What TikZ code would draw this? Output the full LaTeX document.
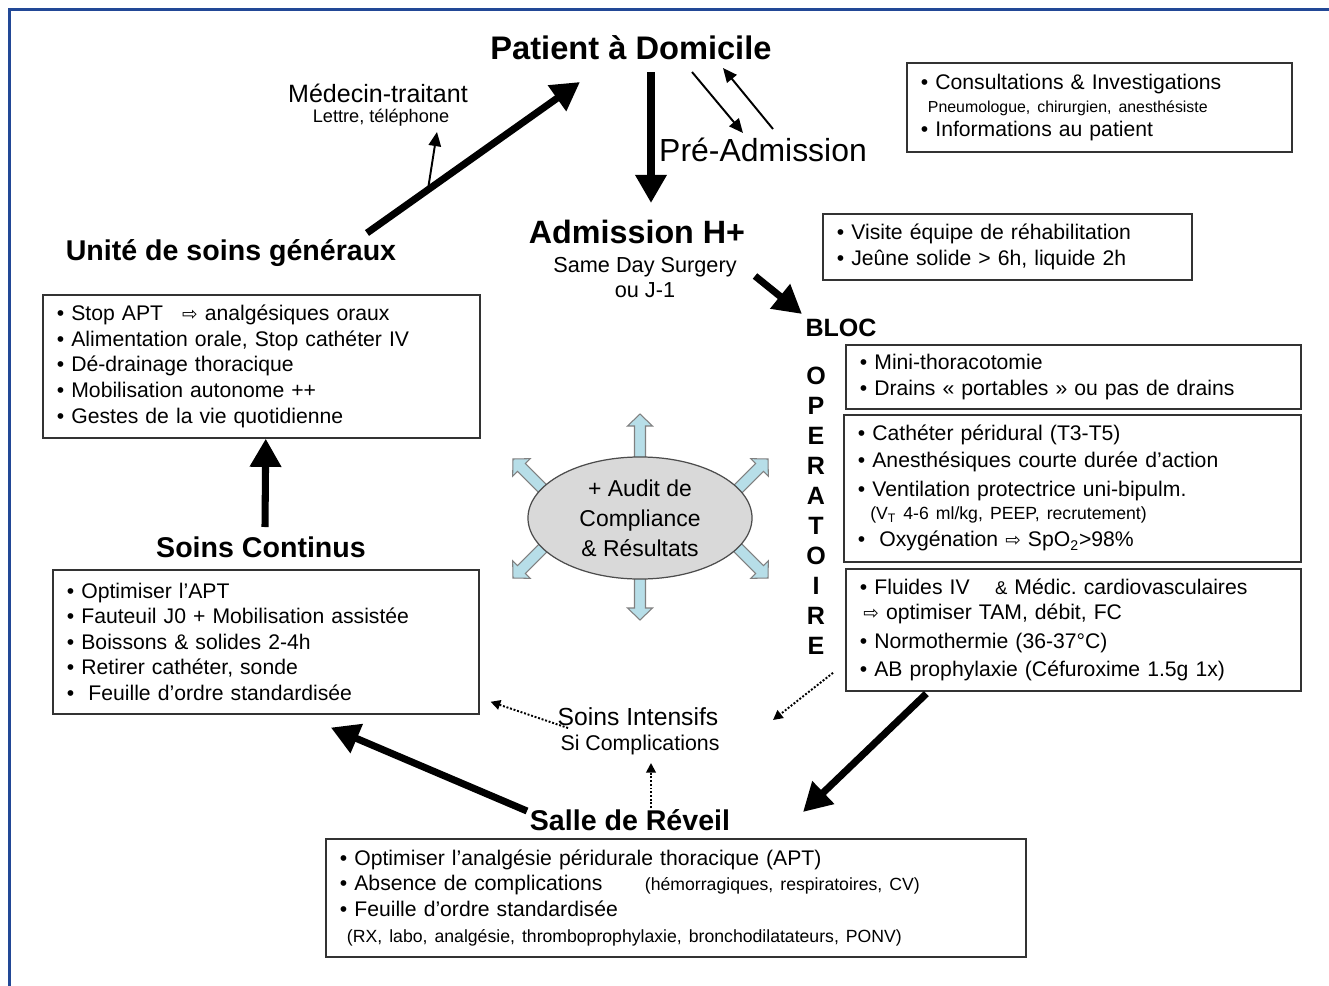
\documentclass[tikz,border=0pt]{standalone}
\usepackage{fontspec}
\setmainfont{Liberation Sans}
\newfontfamily\symfont{DejaVu Sans}
\usetikzlibrary{arrows.meta,shapes.geometric,calc}

\definecolor{frameblue}{RGB}{34,72,150}
\definecolor{auditgray}{RGB}{217,217,217}
\definecolor{auditblue}{RGB}{183,222,232}
\newcommand{\wra}{{\symfont\fontsize{10.5}{10}\selectfont ⇨}}
\frenchspacing

\tikzset{
  infobox/.style={draw=black!80, line width=0.9pt, anchor=north west, align=left,
    inner xsep=8pt, inner ysep=0pt, font=\fontsize{12}{14.5}\selectfont},
  stagetitle/.style={font=\bfseries\fontsize{16.2}{19}\selectfont},
  heavy/.style={line width=4pt, -{Triangle[length=16pt,width=17pt]}},
  thinarrow/.style={line width=1.1pt, -{Triangle[length=8pt,width=7pt]}},
  dotarrow/.style={line width=1.1pt, densely dotted, -{Triangle[length=5.5pt,width=5.5pt]}},
  auditarrow/.style={draw=black!50, fill=auditblue, line width=0.6pt}
}

\begin{document}
\begin{tikzpicture}[x=0.5669pt, y=-0.5669pt]
  \useasboundingbox (0,0) rectangle (1329,986);
  \draw[frameblue, line width=1.7pt] (9.5,986) -- (9.5,9.5) -- (1329,9.5);

  \node[font=\bfseries\fontsize{18.5}{21}\selectfont] (patient) at (631,48) {Patient à Domicile};
  \node[font=\fontsize{14.2}{16}\selectfont] (medecin) at (378,93) {Médecin-traitant};
  \node[font=\fontsize{10.3}{12}\selectfont] (lettre) at (381,118) {Lettre, téléphone};
  \node[font=\fontsize{18.1}{20}\selectfont] (preadm) at (763,150) {Pré-Admission};
  \node[font=\bfseries\fontsize{18.3}{21}\selectfont] (admission) at (637,232) {Admission H+};
  \node[font=\fontsize{12.3}{14.2}\selectfont, align=center] (sameday) at (645,278) {Same Day Surgery\\ou J-1};
  \node[stagetitle] (unite) at (231,253) {Unité de soins généraux};
  \node[font=\bfseries\fontsize{14.2}{15}\selectfont] (bloc) at (841,328) {BLOC};
  \node[font=\bfseries\fontsize{14.2}{17}\selectfont, align=center] (operatoire) at (816,511) {O\\P\\E\\R\\A\\T\\O\\I\\R\\E};
  \node[stagetitle] (continus) at (261,547) {Soins Continus};
  \node[font=\fontsize{14}{16}\selectfont] (intensifs) at (638,717) {Soins Intensifs};
  \node[font=\fontsize{12.1}{14}\selectfont] (complic) at (640,745) {Si Complications};
  \node[stagetitle] (reveil) at (630,820) {Salle de Réveil};

  \node[infobox, text width=202.3pt, minimum height=50.5pt] (consult) at (906,62)
    {• Consultations \& Investigations\\[-1.2pt]
     {\fontsize{9}{10}\selectfont\ Pneumologue, chirurgien, anesthésiste}\\[-1.2pt]
     • Informations au patient};
  \node[infobox, text width=193.2pt, minimum height=37.4pt] (visite) at (822,213)
    {• Visite équipe de réhabilitation\\
     • Jeûne solide > 6h, liquide 2h};
  \node[infobox, text width=231.7pt, minimum height=81.1pt] (unitebox) at (42,294)
    {• Stop APT\hspace{0.9em}\wra\ analgésiques oraux\\
     • Alimentation orale, Stop cathéter IV\\
     • Dé-drainage thoracique\\
     • Mobilisation autonome ++\\
     • Gestes de la vie quotidienne};
  \node[infobox, text width=225.5pt, minimum height=81.6pt] (continusbox) at (52,569)
    {• Optimiser l’APT\\
     • Fauteuil J0 + Mobilisation assistée\\
     • Boissons \& solides 2-4h\\
     • Retirer cathéter, sonde\\
     •\ \ Feuille d’ordre standardisée};
  \node[infobox, text width=242pt, minimum height=36.3pt] (bloca) at (845,344)
    {• Mini-thoracotomie\\
     • Drains « portables » ou pas de drains};
  \node[infobox, text width=243.1pt, minimum height=83.3pt] (blocb) at (843,414)
    {• Cathéter péridural (T3-T5)\\[0.8pt]
     • Anesthésiques courte durée d’action\\[1.8pt]
     • Ventilation protectrice uni-bipulm.\\[-1.2pt]
     \hspace{7pt}{\fontsize{10}{10}\selectfont (V\textsubscript{T} 4-6 ml/kg, PEEP, recrutement)}\\[0.8pt]
     •\ \ Oxygénation \wra\ SpO\textsubscript{2}>98\%};
  \node[infobox, text width=242pt, minimum height=69.2pt] (blocc) at (845,568)
    {• Fluides IV\hspace{1.2em}{\fontsize{10.5}{10}\selectfont\&} Médic. cardiovasculaires\\[-0.5pt]
     \hspace{2pt}\wra\ optimiser TAM, débit, FC\\[1.8pt]
     • Normothermie (36-37°C)\\[1.5pt]
     • AB prophylaxie (Céfuroxime 1.5g 1x)};
  \node[infobox, text width=380.8pt, minimum height=66.9pt] (reveilbox) at (325,838)
    {• Optimiser l’analgésie péridurale thoracique (APT)\\
     • Absence de complications\hspace{24pt}{\fontsize{10}{10}\selectfont (hémorragiques, respiratoires, CV)}\\
     • Feuille d’ordre standardisée\\
     \ {\fontsize{10}{10}\selectfont (RX, labo, analgésie, thromboprophylaxie, bronchodilatateurs, PONV)}};

  \foreach \tx/\ty/\ang in {640/414/90, 640/620/270, 513/459/135, 768/459/45, 513/578/225, 768/578/315}
    \draw[auditarrow, shift={(\tx,\ty)}, rotate=\ang]
      (0,0) -- (-12,12.5) -- (-12,5.5) -- (-60,5.5) -- (-60,-5.5) -- (-12,-5.5) -- (-12,-12.5) -- cycle;
  \node[ellipse, draw=black!70, line width=0.7pt, fill=auditgray, minimum width=127pt, minimum height=69.2pt,
    inner sep=0pt, align=center, font=\fontsize{13}{17}\selectfont] (audit) at (640,518)
    {+ Audit de\\Compliance\\\& Résultats};

  \draw[heavy] ($(unite)+(136,-20)$) -- coordinate[pos=0.286] (medfoot) ($(patient)+(-51,34)$);
  \draw[thinarrow] (medfoot) -- ($(lettre)+(56,14)$);
  \draw[heavy] ($(patient)+(20,24)$) -- ($(admission)+(14,-29)$);
  \draw[thinarrow] ($(patient)+(61,24)$) -- ($(preadm)+(-20,-17)$);
  \draw[thinarrow] ($(preadm)+(10,-21)$) -- ($(patient)+(92,20)$);
  \draw[heavy] ($(sameday)+(110,-2)$) -- ($(bloc)+(-39,-14)$);
  \draw[heavy] ($(continus)+(4,-20)$) -- ($(unitebox.south)+(4.5,0)$);
  \draw[heavy] ($(reveil)+(-103,-9)$) -- ($(continusbox.south)+(65,13)$);
  \draw[heavy] ($(blocc.south)+(-147,2)$) -- ($(reveil)+(173,-8)$);
  \draw[dotarrow] ($(blocc.west)+(-12,43)$) -- ($(intensifs)+(135,3)$);
  \draw[dotarrow] ($(intensifs)+(-70,11)$) -- ($(continusbox.east)+(11,60)$);
  \draw[dotarrow] ($(reveil)+(21,-12)$) -- ($(complic)+(11,18)$);
\end{tikzpicture}
\end{document}
